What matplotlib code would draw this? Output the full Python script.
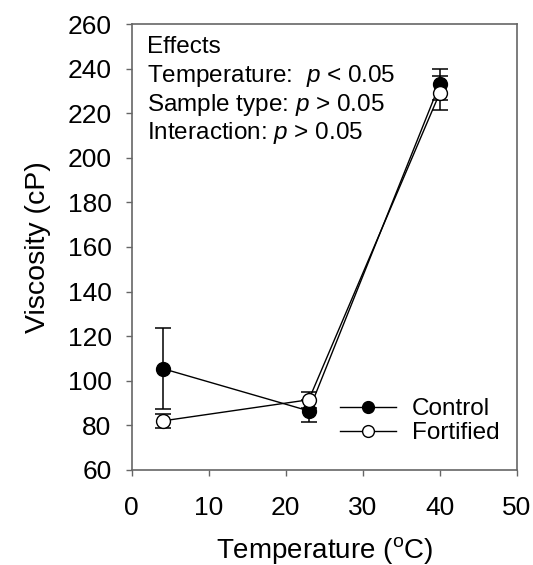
import matplotlib.pyplot as plt

plt.rcParams["font.family"] = ["Liberation Sans", "DejaVu Sans"]
plt.rcParams["mathtext.fontset"] = "custom"
plt.rcParams["mathtext.rm"] = "Liberation Sans"
plt.rcParams["mathtext.it"] = "Liberation Sans:italic"

temps = [4, 23, 40]
control = [105.5, 86.5, 233.0]
control_err = [18.0, 5.0, 7.0]
fortified = [82.0, 91.5, 229.0]
fortified_err = [3.3, 3.5, 7.5]

W, H = 533, 565
fig = plt.figure(figsize=(W / 100, H / 100), dpi=100)
ax = fig.add_axes([131.7 / W, 1 - 470 / H, 385 / W, 446 / H])

ax.errorbar(temps, control, yerr=control_err, color="black", lw=1,
            marker="o", ms=10, mfc="black", mec="black", capsize=5.5,
            elinewidth=1.1, capthick=1.1, label="Control", zorder=3)
ax.errorbar(temps, fortified, yerr=fortified_err, color="black", lw=1,
            marker="o", ms=10, mfc="white", mec="black", capsize=5.5,
            elinewidth=1.1, capthick=1.1, label="Fortified", zorder=4)

ax.set_xlim(0, 50)
ax.set_ylim(60, 260)
ax.set_xticks(range(0, 51, 10))
ax.set_yticks(range(60, 261, 20))
ax.tick_params(axis="both", labelsize=19, direction="out", length=4.5,
               width=1, color="#666666")
ax.tick_params(axis="y", pad=10)
ax.tick_params(axis="x", pad=14)
for s in ax.spines.values():
    s.set_color("#666666")
    s.set_linewidth(1.2)

ax.set_xlabel("Temperature ($^{\\mathrm{o}}$C)", fontsize=20, labelpad=11)
ax.set_ylabel("Viscosity (cP)", fontsize=20.5, labelpad=12)

lines = ["Effects",
         "Temperature:  $\\it{p}$ < 0.05",
         "Sample type: $\\it{p}$ > 0.05",
         "Interaction: $\\it{p}$ > 0.05"]
for i, line in enumerate(lines):
    fig.text(147 / W, 1 - (53.3 + 28.6 * i) / H, line, ha="left",
             va="baseline", fontsize=17.5)

handles, labels = ax.get_legend_handles_labels()
handles = [h[0] for h in handles]
ax.legend(handles, labels, loc="lower right", frameon=False, fontsize=17.5,
          handlelength=2.3, handletextpad=0.65, labelspacing=0.08,
          markerscale=0.85, borderaxespad=0.3,
          bbox_to_anchor=(1.0, 0.02))

fig.savefig("out.png", dpi=100)
